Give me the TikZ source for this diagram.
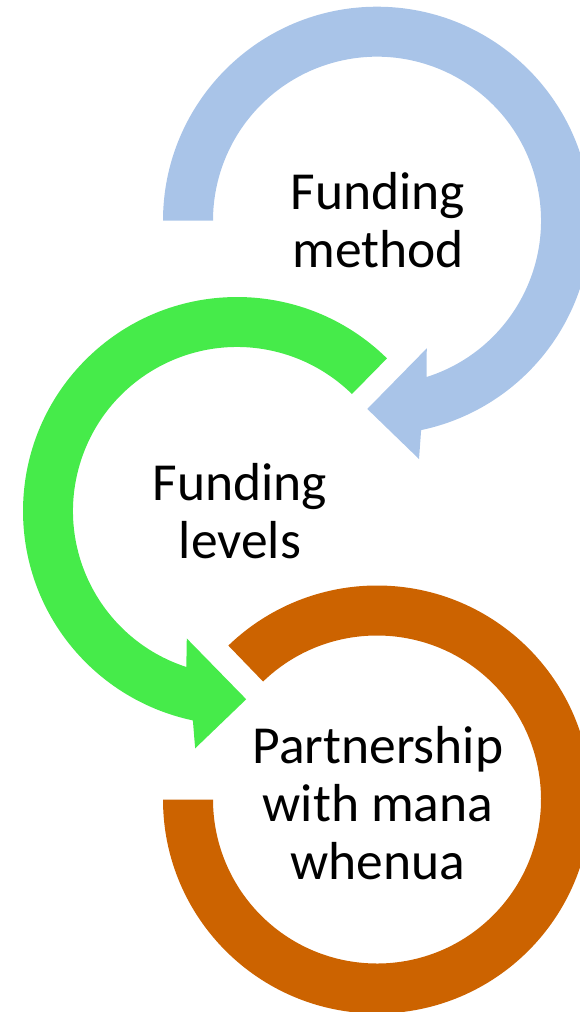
\documentclass[tikz,border=0pt]{standalone}
\usepackage{fontspec}
\setmainfont{Carlito}
\usetikzlibrary{calc}
\definecolor{ringblue}{RGB}{169,196,232}
\definecolor{ringgreen}{RGB}{70,235,74}
\definecolor{ringorange}{RGB}{204,99,0}
\tikzset{
  label text/.style={font=\fontsize{53.5}{58}\selectfont, align=center, inner sep=0pt, anchor=base, text=black},
}
\begin{document}
\begin{tikzpicture}[x=1pt,y=1pt]
\useasboundingbox (0,0) rectangle (580,-1012);
\coordinate (cb) at (377,-220.7);
\coordinate (cg) at (237,-511);
\coordinate (co) at (377,-799.5);
% blue circular arrow
\fill[ringblue] ($(cb)+(180:214pt)$) arc[start angle=180, end angle=-78.1, radius=214pt]
  -- ($(cb)+(-80:242pt)$) -- ($(cb)+(-92.95:188.5pt)$) -- ($(cb)+(-68.7:137pt)$)
  -- ($(cb)+(-72.4:164pt)$) arc[start angle=-72.4, end angle=180, radius=164pt] -- cycle;
% green circular arrow
\fill[ringgreen] ($(cg)+(45.5:214pt)$) arc[start angle=45.5, end angle=258.1, radius=214pt]
  -- ($(cg)+(260:241pt)$) -- ($(cg)+(272.8:188.5pt)$) -- ($(cg)+(248.5:137pt)$)
  -- ($(cg)+(252:164pt)$) arc[start angle=252, end angle=45.5, radius=164pt] -- cycle;
% orange ring
\fill[ringorange] ($(co)+(180:214pt)$) arc[start angle=180, end angle=494, radius=214pt]
  -- ($(co)+(134:164pt)$) arc[start angle=134, end angle=-180, radius=164pt] -- cycle;
% labels
\node[label text] (method) at (378,-267) {Funding\\method};
\node[label text] (levels) at (240,-558) {Funding\\levels};
\node[label text] (partner) at (378,-879) {Partnership\\with mana\\whenua};
\end{tikzpicture}
\end{document}
